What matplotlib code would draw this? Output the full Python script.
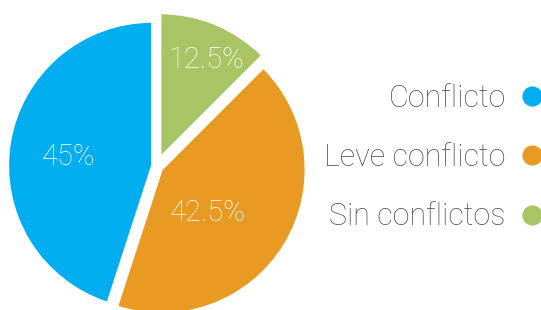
import matplotlib
matplotlib.use("Agg")
import matplotlib.pyplot as plt
from matplotlib.lines import Line2D

# data (drawing order: clockwise from top)
categories = ["Sin conflictos", "Leve conflicto", "Conflicto"]
values = [12.5, 42.5, 45.0]
colors = ["#A8C464", "#E89A23", "#00AEEF"]
pct_labels = ["12.5%", "42.5%", "45%"]
legend_order = ["Conflicto", "Leve conflicto", "Sin conflictos"]

W, H = 541, 310
fig = plt.figure(figsize=(W / 100, H / 100), dpi=100)
ax = fig.add_axes([0, 0, 1, 1])

R = 144
cx, cy = 156.5, H - 166.5
explode = [10, 6, 4.5]
wedges, texts = ax.pie(values, colors=colors, startangle=90, counterclock=False,
                       radius=R, center=(cx, cy), explode=explode,
                       wedgeprops=dict(edgecolor="white", linewidth=1.5),
                       frame=True)
ax.set_xlim(0, W)
ax.set_ylim(0, H)
ax.set_aspect("equal")
ax.axis("off")

FAM = ["Roboto", "DejaVu Sans"]
# label positions (pixels from top-left)
label_pos = [(206, 60), (208, 213), (69, 157)]
for lab, (px, py) in zip(pct_labels, label_pos):
    ax.text(px, H - py, lab, ha="center", va="center", color="white", fontsize=21,
            family=FAM, fontweight="light")

handles = []
for name in legend_order:
    c = colors[categories.index(name)]
    handles.append(Line2D([], [], linestyle="none", marker="o", markersize=13.5,
                          markerfacecolor=c, markeredgecolor=c))
leg = ax.legend(handles, legend_order, loc="center right", bbox_to_anchor=(1.0, 0.492),
                borderaxespad=0.0, borderpad=0.0,
                frameon=False, markerfirst=False, handlelength=0.6, handletextpad=0.55,
                labelspacing=0.99, labelcolor="#555555",
                prop=dict(family=FAM, weight="light", size=22))

fig.savefig("out.png", dpi=100)
